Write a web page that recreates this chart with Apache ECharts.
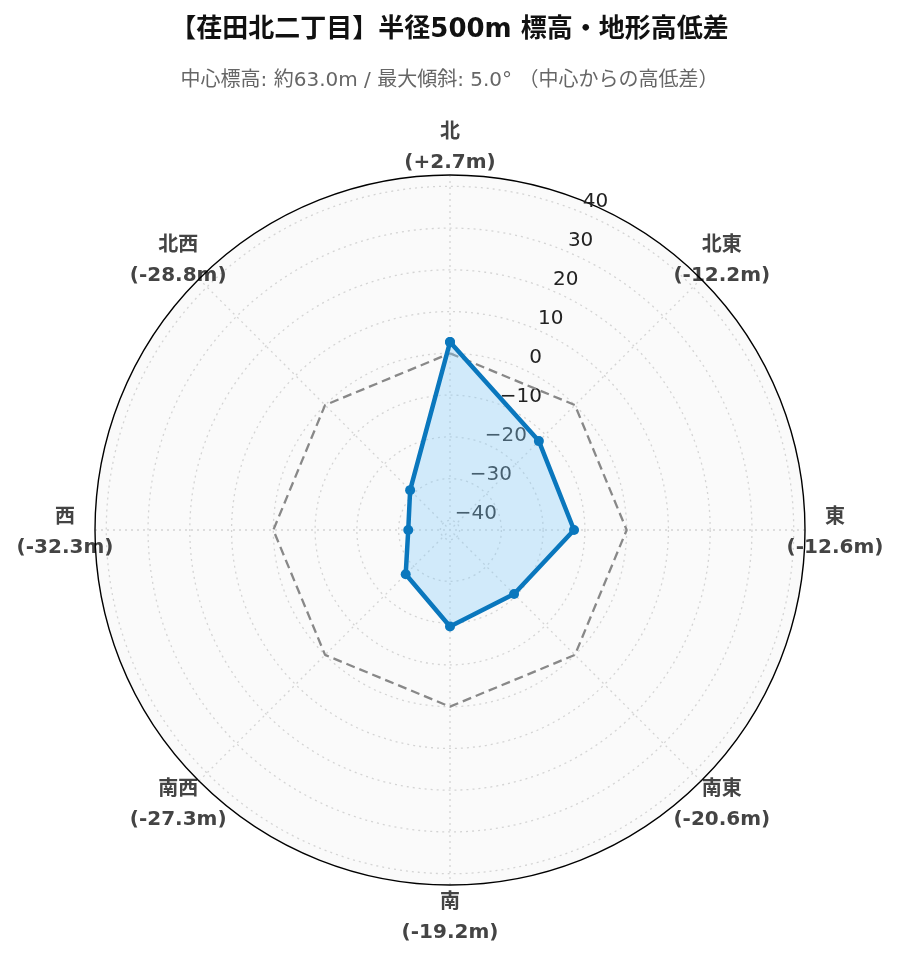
<!DOCTYPE html>
<html><head><meta charset="utf-8">
<script src="https://cdn.jsdelivr.net/npm/echarts@6/dist/echarts.min.js"></script>
<style>html,body{margin:0;padding:0;background:#fff}#c{width:899px;height:962px}</style>
</head><body><div id="c"></div>
<script>
const directions = ['北','北東','東','南東','南','南西','西','北西'];
const elevDiff = [2.7,-12.2,-12.6,-20.6,-19.2,-27.3,-32.3,-28.8];
const referenceLine = [0,0,0,0,0,0,0,0];
const radialTicks = [-40,-30,-20,-10,0,10,20,30,40];
const radialMin = -42.3, radialMax = 42.7;
const titleText = '【荏田北二丁目】半径500m 標高・地形高低差';
const subText = '中心標高: 約63.0m / 最大傾斜: 5.0° （中心からの高低差）';

const step = 360 / directions.length;
const closed = arr => directions.map((d,i)=>[arr[i], i*step]).concat([[arr[0], 360]]);
const fmtDiff = v => '(' + (v >= 0 ? '+' : '') + v.toFixed(1) + 'm)';
const fmtTick = v => v < 0 ? '\u2212' + Math.abs(v) : String(v);
const dirLabel = (v, wantDiagonal) => {
  const i = Math.round(v / step);
  if (i >= directions.length) return '';
  const diag = i % 2 === 1;
  if (diag !== wantDiagonal) return '';
  return '{a|' + directions[i] + '}\n{a|' + fmtDiff(elevDiff[i]) + '}';
};
const labelFont = '"DejaVu Sans", "Noto Sans CJK JP"';
const angleLabelStyle = wantDiag => ({
  show:true, margin:0, width:60,
  formatter: v => dirLabel(v, wantDiag),
  rich:{a:{align:'center', fontFamily:labelFont, fontWeight:'bold', fontSize:20, color:'#444', lineHeight:30}}
});

const chart = echarts.init(document.getElementById('c'), null, {renderer:'canvas'});
const center = [450, 530], radius = 355;
const labelCenter = [450, 533];
const angleBase = {type:'value', min:0, max:360, interval:step, startAngle:90, clockwise:true};
const hiddenAngle = {axisLine:{show:false}, axisTick:{show:false}, splitLine:{show:false}};
chart.setOption({
  backgroundColor:'#fff',
  animation:false,
  title:[
    {text:titleText, left:'center', top:9, textStyle:{fontFamily:labelFont, fontWeight:'bold', fontSize:26, color:'#111', lineHeight:32}},
    {text:subText, left:'center', top:63, textStyle:{fontFamily:labelFont, fontWeight:'normal', fontSize:20, color:'#666', lineHeight:26}}
  ],
  polar:[
    {center:center, radius:radius},
    {center:center, radius:radius},
    {center:labelCenter, radius:342},
    {center:center, radius:radius},
    {center:labelCenter, radius:radius}
  ],
  angleAxis:[
    Object.assign({polarIndex:0}, angleBase, {
     axisLine:{show:true, lineStyle:{color:'#000', width:1.4}},
     axisTick:{show:false},
     axisLabel:{show:false},
     splitLine:{show:true, lineStyle:{color:'#d4d4d4', type:[2,4], width:1.3}}}),
    {polarIndex:1, type:'value', min:0, max:360, startAngle:69, show:false},
    Object.assign({polarIndex:2}, angleBase, hiddenAngle, {axisLabel:angleLabelStyle(true)}),
    Object.assign({polarIndex:3, z:-1}, angleBase, hiddenAngle, {axisLabel:{show:false},
     splitArea:{show:true, areaStyle:{color:['#fafafa','#fafafa']}}}),
    Object.assign({polarIndex:4}, angleBase, hiddenAngle, {axisLabel:angleLabelStyle(false)})
  ],
  radiusAxis:[
    {polarIndex:0, type:'value', min:radialMin, max:radialMax, splitNumber:9,
     axisLine:{show:false}, axisTick:{show:false, customValues:radialTicks}, axisLabel:{show:false, customValues:radialTicks},
     splitLine:{show:true, lineStyle:{color:'#d4d4d4', type:[2,4], width:1.3}}},
    {polarIndex:1, type:'value', min:radialMin, max:radialMax, splitNumber:9,
     axisLine:{show:false}, axisTick:{show:false, customValues:radialTicks}, splitLine:{show:false},
     axisLabel:{show:true, customValues:radialTicks, margin:-24, align:'center', verticalAlign:'bottom',
       lineHeight:20, padding:[0,0,6,0], fontFamily:'DejaVu Sans', fontSize:20, color:'#222', formatter:fmtTick}},
    {polarIndex:2, type:'value', min:radialMin, max:radialMax, show:false},
    {polarIndex:3, type:'value', min:radialMin, max:radialMax, show:false, z:-1},
    {polarIndex:4, type:'value', min:radialMin, max:radialMax, show:false}
  ],
  series:[
    {type:'line', coordinateSystem:'polar', polarIndex:0, data:closed(referenceLine), symbol:'none',
     lineStyle:{color:'#888', width:2.3, type:[9,5]}, z:3},
    {type:'line', coordinateSystem:'polar', polarIndex:0, data:closed(elevDiff), symbol:'circle', symbolSize:10,
     itemStyle:{color:'#0a77bd'}, lineStyle:{color:'#0a77bd', width:4.5},
     areaStyle:{color:'rgba(135,206,250,0.36)', opacity:1, origin:'start'}, z:4}
  ]
});
</script></body></html>
